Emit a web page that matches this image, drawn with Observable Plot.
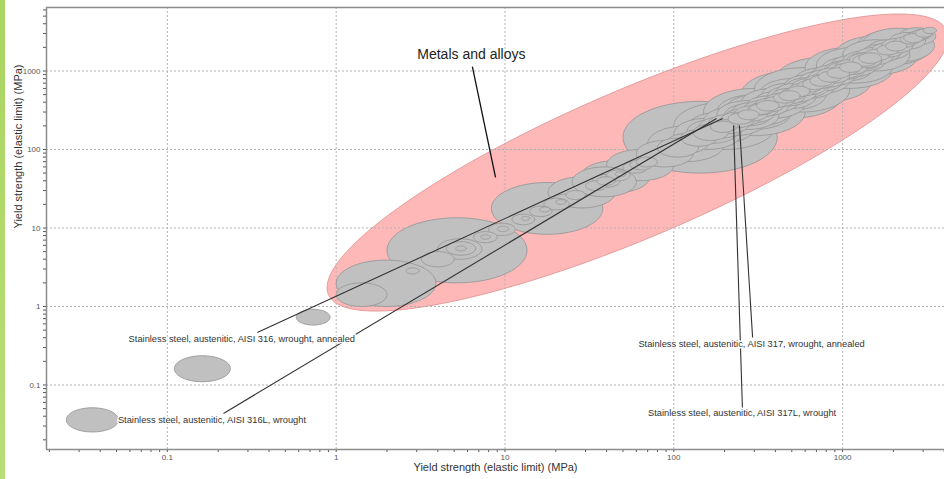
<!DOCTYPE html>
<html><head><meta charset="utf-8">
<script src="https://cdn.jsdelivr.net/npm/d3@7"></script>
<script src="https://cdn.jsdelivr.net/npm/@observablehq/plot@0.6"></script>
<style>
html,body{margin:0;padding:0;background:#fff;}
#wrap{position:relative;width:944px;height:479px;overflow:hidden;background:#fff;}
#bar{position:absolute;left:0;top:0;width:5px;height:479px;background:linear-gradient(#a9d560,#b8de76);z-index:2;}
#chart{position:absolute;left:0;top:0;}
</style></head>
<body><div id="wrap"><div id="bar"></div><div id="chart"></div></div>
<script>
// ---- axis ticks ----
const majorTicks = [0.1, 1, 10, 100, 1000];
const majorLabels = ["0.1", "1", "10", "100", "1000"];
const minorMultipliers = [2, 3, 4, 5, 6, 7, 8, 9];
const decades = [0.01, 0.1, 1, 10, 100, 1000];
const xDomain = [0.01923, 4015];
const yDomain = [0.01507, 6440];
const axisTitle = "Yield strength (elastic limit) (MPa)";

// ---- materials: yield strength range (MPa), low / high ----
const matLo = [0.0252, 0.110, 0.58,
  1.0, 1.0, 2.6,
  2.0, 4.0, 4.5, 5.1, 6.5, 7.2, 8.0, 9.0, 3.2,
  8.3, 11, 12.5, 14, 16, 17, 20, 23, 19, 18, 25,
  28, 30, 35, 40, 45, 50, 55, 60, 33, 40, 60,
  50, 70, 80, 90, 100, 110, 120, 130, 140, 150, 160, 170, 180, 190, 200, 200, 210, 220, 230, 240,
  250, 260, 280, 300, 300, 320, 350, 380, 400, 420, 450, 480, 500, 550, 600, 650, 700, 750, 800,
  900, 1000, 1100, 1200, 1300, 1500, 1700, 2150, 2300, 300, 700, 1000, 1200, 2500,
  150, 250, 400, 600, 900, 1300, 100, 180, 330, 520, 850, 1400, 1900, 2600, 120, 200, 270, 360, 460, 620, 780, 1050,
  165, 215, 275, 310, 340, 390, 430, 470, 540, 580, 640, 720, 810, 880, 960, 1150, 1250, 1350, 1600, 1800, 2000, 2200, 2400, 2700, 3000];
const matHi = [0.0513, 0.236, 0.92,
  3.9, 2.0, 3.1,
  13.5, 7.3, 6.7, 5.9, 9.0, 8.2, 11.5, 10.5, 5.0,
  38, 15, 14, 19, 18.5, 24, 23, 30, 27, 45, 60,
  72, 40, 45, 55, 52, 70, 75, 80, 48, 100, 130,
  410, 200, 140, 160, 250, 180, 300, 210, 260, 350, 280, 240, 420, 300, 330, 500, 290, 400, 360, 320,
  600, 420, 380, 550, 450, 800, 520, 600, 700, 560, 900, 700, 800, 1000, 900, 1200, 1100, 1500, 1300,
  1400, 1800, 1700, 2000, 2200, 2300, 2600, 3560, 3000, 1100, 2000, 2500, 3300, 3300,
  600, 1000, 1500, 2000, 2800, 3500, 400, 500, 700, 1100, 1600, 2500, 3100, 3400, 240, 380, 480, 640, 820, 1050, 1350, 1700,
  230, 300, 390, 420, 470, 530, 600, 640, 760, 800, 880, 990, 1100, 1250, 1300, 1600, 1700, 1900, 2150, 2400, 2700, 2900, 3200, 3400, 3600];

// ---- "Metals and alloys" envelope (log10 MPa): centre, half major axis, half minor axis ----
const envCentre = [1.785, 1.834];
const envMajor = [1.831, 1.682];
const envMinor = [0.172, -0.867];
const envLabel = "Metals and alloys";
const envLabelAt = [6.32, 1622];
const envLeader = [6.41, 1140, 8.79, 44];

// ---- material annotations ----
const annText = [
  "Stainless steel, austenitic, AISI 316, wrought, annealed",
  "Stainless steel, austenitic, AISI 316L, wrought",
  "Stainless steel, austenitic, AISI 317, wrought, annealed",
  "Stainless steel, austenitic, AISI 317L, wrought"
];
const annTextX = [0.276, 0.1837, 289, 254];
const annTextY = [0.380, 0.0353, 0.328, 0.0434];
const annFromX = [0.341, 0.215, 293, 255];
const annFromY = [0.467, 0.0434, 0.403, 0.0502];
const annToX = [194.5, 179, 245, 226];
const annToY = [248, 248, 202, 202];

// ---- build shapes ----
const N = 64;
const bubbles = matLo.map((lo, i) => {
  const a = Math.log10(lo), b = Math.log10(matHi[i]);
  return {id: i, c: (a + b) / 2, r: (b - a) / 2};
}).sort((p, q) => q.r - p.r);
const bubblePts = [];
for (const bb of bubbles) {
  for (let k = 0; k < N; k++) {
    const t = 2 * Math.PI * k / N;
    bubblePts.push({id: bb.id, x: Math.pow(10, bb.c + bb.r * Math.cos(t)), y: Math.pow(10, bb.c + bb.r * Math.sin(t))});
  }
}
const envPts = [];
for (let k = 0; k < 128; k++) {
  const t = 2 * Math.PI * k / 128;
  envPts.push({
    x: Math.pow(10, envCentre[0] + envMajor[0] * Math.cos(t) + envMinor[0] * Math.sin(t)),
    y: Math.pow(10, envCentre[1] + envMajor[1] * Math.cos(t) + envMinor[1] * Math.sin(t))
  });
}
const ann = annText.map((s, i) => ({s, tx: annTextX[i], ty: annTextY[i], x1: annFromX[i], y1: annFromY[i], x2: annToX[i], y2: annToY[i]}));

const allTicks = [];
for (const d of decades) for (const m of [1, ...minorMultipliers]) allTicks.push(+(d * m).toPrecision(3));
const labelOf = new Map(majorTicks.map((v, i) => [v, majorLabels[i]]));
const fmt = d => labelOf.has(d) ? labelOf.get(d) : "";
const xT = allTicks.filter(v => v >= xDomain[0] && v <= xDomain[1]);
const yT = allTicks.filter(v => v >= yDomain[0] && v <= yDomain[1]);

const font = "Liberation Sans, Arial, sans-serif";
const gridStyle = {stroke: "#b3b3b3", strokeDasharray: "2,2", strokeWidth: 1};

const chart = Plot.plot({
  width: 944, height: 479,
  marginLeft: 46, marginRight: 0, marginTop: 7, marginBottom: 30,
  style: {fontFamily: font, fontSize: "8px", color: "#555", background: "transparent"},
  x: {type: "log", domain: xDomain, ticks: xT, tickFormat: fmt, tickSize: 3, tickPadding: 2, label: null},
  y: {type: "log", domain: yDomain, ticks: yT, tickFormat: fmt, tickSize: 3, tickPadding: 3, label: null},
  marks: [
    Plot.line(envPts, {x: "x", y: "y", curve: "linear-closed", fill: "#ffb8b8", stroke: "#e59c9c", strokeWidth: 1, clip: true}),
    Plot.ruleX(majorTicks, gridStyle),
    Plot.ruleY(majorTicks, gridStyle),
    Plot.line(bubblePts, {x: "x", y: "y", z: "id", curve: "linear-closed", fill: "#c0c0c0", stroke: "#999999", strokeWidth: 0.9}),
    Plot.link([envLeader], {x1: d => d[0], y1: d => d[1], x2: d => d[2], y2: d => d[3], stroke: "#111", strokeWidth: 1.3}),
    Plot.link(ann, {x1: "x1", y1: "y1", x2: "x2", y2: "y2", stroke: "#333", strokeWidth: 1.1}),
    Plot.text(ann, {x: "tx", y: "ty", text: "s", fill: "#333", fontSize: 9.3, stroke: "white", strokeWidth: 3, paintOrder: "stroke"}),
    Plot.text([envLabel], {x: () => envLabelAt[0], y: () => envLabelAt[1], text: d => d, fill: "#222", fontSize: 14}),
    Plot.ruleY([yDomain[0]], {stroke: "#8c8c8c", strokeWidth: 1.5}),
    Plot.ruleY([yDomain[1]], {stroke: "#8c8c8c", strokeWidth: 1.5}),
    Plot.ruleX([xDomain[0]], {stroke: "#8c8c8c", strokeWidth: 1.5}),
    Plot.text([axisTitle], {text: d => d, frameAnchor: "bottom", dy: 21, fill: "#333", fontSize: 11}),
    Plot.text([axisTitle], {text: d => d, frameAnchor: "left", dx: -28, rotate: -90, fill: "#333", fontSize: 11})
  ]
});
document.getElementById("chart").appendChild(chart);
</script>
</body></html>
